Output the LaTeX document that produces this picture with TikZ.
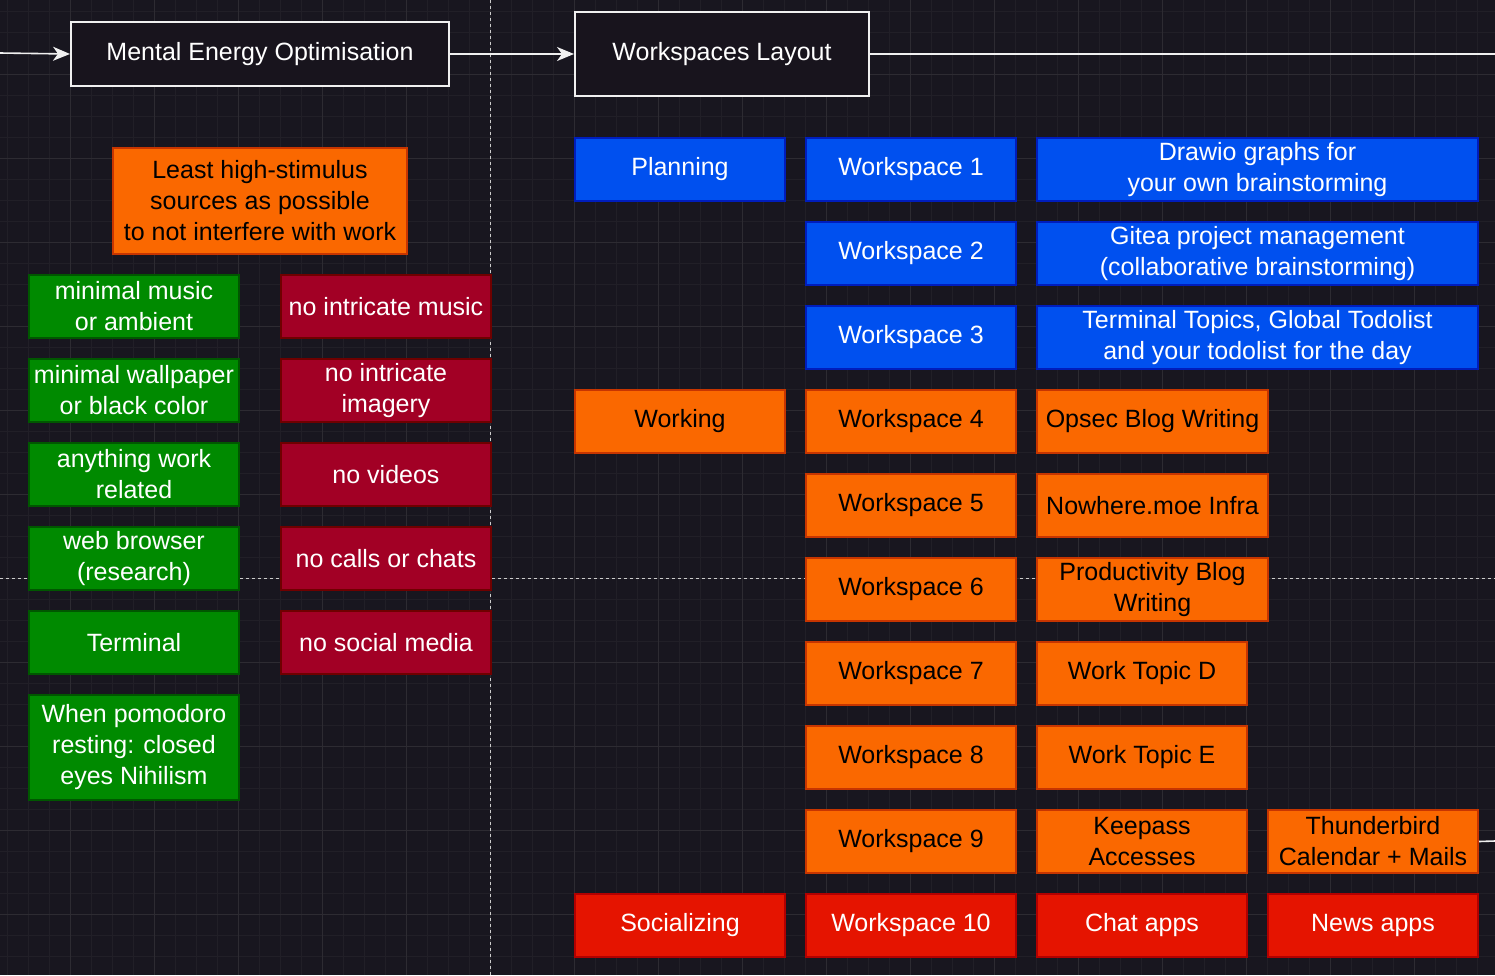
\documentclass[tikz,border=0pt]{standalone}
\usepackage{fontspec}
\setmainfont{Liberation Sans}
\usetikzlibrary{arrows.meta}
\definecolor{bg}{HTML}{18161F}
\definecolor{gridminor}{HTML}{211F27}
\definecolor{gridmajor}{HTML}{2D2B32}
\definecolor{lineclr}{HTML}{F0F0F0}
\definecolor{orfill}{HTML}{FA6800}\definecolor{ordraw}{HTML}{C73500}
\definecolor{grfill}{HTML}{008A00}\definecolor{grdraw}{HTML}{005700}
\definecolor{crfill}{HTML}{A20025}\definecolor{crdraw}{HTML}{6F0000}
\definecolor{blfill}{HTML}{0050EF}\definecolor{bldraw}{HTML}{001DBC}
\definecolor{rdfill}{HTML}{E51400}\definecolor{rddraw}{HTML}{B20000}
\definecolor{dkfill}{HTML}{18141D}
\newcommand\mainfs{\fontsize{25}{31}\selectfont}
\tikzset{
  base/.style={draw, line width=2pt, anchor=north west, minimum height=63pt,
    minimum width=210pt, inner sep=0pt, align=center, font=\mainfs, text=white},
  gbox/.style={base, fill=grfill, draw=grdraw},
  cbox/.style={base, fill=crfill, draw=crdraw},
  bbox/.style={base, fill=blfill, draw=bldraw},
  obox/.style={base, fill=orfill, draw=ordraw, text=black},
  rbox/.style={base, fill=rdfill, draw=rddraw},
  dbox/.style={base, fill=dkfill, draw=lineclr},
  conn/.style={draw=lineclr, line width=1.6pt},
  arr/.style={conn, -{Stealth[length=17pt,width=14pt,inset=5pt]}},
  dash/.style={}, 
  sep/.style={draw=lineclr!85!black, line width=0.8pt, dash pattern=on 3pt off 3pt},
  minorl/.style={draw=gridminor, line width=0.8pt},
  majorl/.style={draw=gridmajor, line width=0.8pt}
}
\begin{document}
\begin{tikzpicture}[x=1pt,y=-1pt]
\useasboundingbox (0,0) rectangle (1495,975);
\fill[bg] (0,0) rectangle (1495,975);
% grid
\foreach \x in {7,28,...,1495} \draw[minorl] (\x,0) -- (\x,975);
\foreach \y in {11,32,...,975} \draw[minorl] (0,\y) -- (1495,\y);
\foreach \x in {70,154,...,1495} \draw[majorl] (\x,0) -- (\x,975);
\foreach \y in {74,158,...,975} \draw[majorl] (0,\y) -- (1495,\y);
% separators
\draw[sep] (490,0) -- (490,975);
\draw[sep] (0,578) -- (1495,578);

% header boxes
\node[dbox, minimum width=378pt, minimum height=64pt] (meo) at (70,21) {Mental Energy Optimisation};
\node[dbox, minimum width=294pt, minimum height=84pt] (wl) at (574,11) {Workspaces Layout};

% left column
\node[obox, minimum width=294pt, minimum height=106pt] (least) at (112,147) {Least high-stimulus\\sources as possible\\to not interfere with work};
\node[gbox] (g1) at (28,274) {minimal music\\or ambient};
\node[gbox] (g2) at (28,358) {minimal wallpaper\\or black color};
\node[gbox] (g3) at (28,442) {anything work\\related};
\node[gbox] (g4) at (28,526) {web browser\\(research)};
\node[gbox] (g5) at (28,610) {Terminal};
\node[gbox, minimum height=105pt] (g6) at (28,694) {When pomodoro\\resting: closed\\eyes Nihilism};
\node[cbox] (c1) at (280,274) {no intricate music};
\node[cbox] (c2) at (280,358) {no intricate\\imagery};
\node[cbox] (c3) at (280,442) {no videos};
\node[cbox] (c4) at (280,526) {no calls or chats};
\node[cbox] (c5) at (280,610) {no social media};

% right area
\node[bbox] (planning) at (574,137) {Planning};
\node[bbox] (w1) at (805,137) {Workspace 1};
\node[bbox] (w2) at (805,221) {Workspace 2};
\node[bbox] (w3) at (805,305) {Workspace 3};
\node[bbox, minimum width=441pt] (d1) at (1036,137) {Drawio graphs for\\your own brainstorming};
\node[bbox, minimum width=441pt] (d2) at (1036,221) {Gitea project management\\(collaborative brainstorming)};
\node[bbox, minimum width=441pt] (d3) at (1036,305) {Terminal Topics, Global Todolist\\and your todolist for the day};

\node[obox] (working) at (574,389) {Working};
\node[obox] (w4) at (805,389) {Workspace 4};
\node[obox] (w5) at (805,473) {Workspace 5};
\node[obox] (w6) at (805,557) {Workspace 6};
\node[obox] (w7) at (805,641) {Workspace 7};
\node[obox] (w8) at (805,725) {Workspace 8};
\node[obox] (w9) at (805,809) {Workspace 9};
\node[obox, minimum width=231pt] (t4) at (1036,389) {Opsec Blog Writing};
\node[obox, minimum width=231pt] (t5) at (1036,473) {Nowhere.moe Infra};
\node[obox, minimum width=231pt] (t6) at (1036,557) {Productivity Blog\\Writing};
\node[obox] (t7) at (1036,641) {Work Topic D};
\node[obox] (t8) at (1036,725) {Work Topic E};
\node[obox] (t9) at (1036,809) {Keepass\\Accesses};
\node[obox] (thb) at (1267,809) {Thunderbird\\Calendar + Mails};

\node[rbox] (social) at (574,893) {Socializing};
\node[rbox] (w10) at (805,893) {Workspace 10};
\node[rbox] (chat) at (1036,893) {Chat apps};
\node[rbox] (news) at (1267,893) {News apps};

% connectors
\coordinate (inL) at (0,53);
\coordinate (outR) at (1495,54);
\coordinate (outT) at (1495,841);
\draw[arr] (inL) -- (meo.west);
\draw[arr] (meo.east) -- (wl.west);
\draw[conn] (wl.east) -- (outR);
\draw[conn] (thb.east) -- (outT);
\end{tikzpicture}
\end{document}
